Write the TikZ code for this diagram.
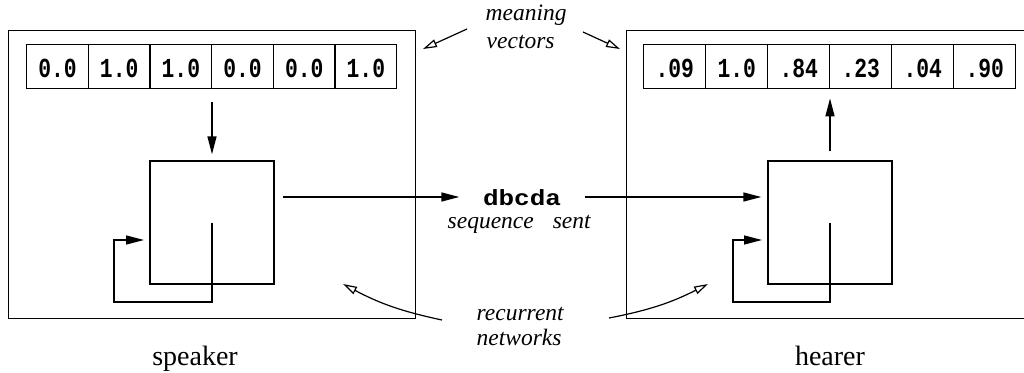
\documentclass[tikz,border=0pt]{standalone}
\usepackage{fontspec}
\setmainfont{Liberation Serif}
\setmonofont{Liberation Mono}
\usetikzlibrary{arrows.meta}
\newcommand{\vecval}[1]{\scalebox{0.97}[1.25]{#1}}
\begin{document}
\begin{tikzpicture}[x=1pt, y=-1pt, line width=1.4pt,
  frame/.style={draw, anchor=north west, inner sep=0pt, minimum width=407pt, minimum height=288pt},
  net/.style={draw, inner sep=0pt, minimum width=124pt, minimum height=123pt},
  cell/.style={draw, anchor=north west, inner sep=0pt, minimum width=#1, minimum height=44pt,
    text height=22pt, text depth=0pt, font=\fontsize{22}{22}\selectfont\ttfamily\bfseries},
  note/.style={anchor=base west, inner sep=0pt, font=\fontsize{23.5}{27}\selectfont\itshape},
  role/.style={anchor=base, inner sep=0pt, font=\fontsize{28}{30}\selectfont},
  arr/.style={-{Triangle[length=18pt, width=9pt]}},
  oarr/.style={-{Triangle[open, length=14pt, width=8pt, fill=white]}, line width=1.2pt}]
\useasboundingbox (0,0) rectangle (1024,372);
\clip (0,0) rectangle (1024,372);

% speaker and hearer frames
\node[frame] (spk) at (8,30) {};
\node[frame] (hrr) at (626,30) {};

% meaning vectors
\foreach \v [count=\i] in {0.0,1.0,1.0,0.0,0.0,1.0}
  \node[cell=61.67pt] (lc\i) at ({26+(\i-1)*61.67}, 44) {\vecval{\v}};
\foreach \v [count=\i] in {.09,1.0,.84,.23,.04,.90}
  \node[cell=62pt] (rc\i) at ({643+(\i-1)*62}, 44) {\vecval{\v}};

% recurrent networks
\node[net] (lnet) at (212,222.5) {};
\node[net] (rnet) at (830,222.5) {};

% vector to / from networks
\draw[arr, shorten <=13pt, shorten >=6pt] (lnet.north |- lc4.south) -- (lnet.north);
\draw[arr, shorten <=9pt, shorten >=9pt] (rnet.north) -- (rnet.north |- rc4.south);

% recurrent feedback loops
\coordinate (lfb) at (114,302);
\coordinate (lin) at (144,240);
\coordinate (rfb) at (733,302);
\coordinate (rin) at (762,240);
\draw[arr] (lnet.center) |- (lfb) |- (lin);
\draw[arr] (rnet.center) |- (rfb) |- (rin);

% transmitted sequence
\node[anchor=base, inner sep=0pt] (msg) at (522,205.5)
  {\scalebox{1.3}[1.1]{\fontsize{20}{20}\selectfont\ttfamily\bfseries dbcda}};
\node[note] (sent) at (447,228) {sequence\hspace{19pt}sent};
\coordinate (lout) at (283,197);
\draw[arr, shorten >=23pt] (lout) -- (lout -| msg.west);
\draw[arr, shorten <=23pt, shorten >=6pt] (lout -| msg.east) -- (lout -| rnet.west);

% labels with pointers
\node[note] (mean) at (485,20) {meaning};
\node[note] (vect) at (486,48) {vectors};
\coordinate (mtl) at (467,29);
\coordinate (mhl) at (423,49);
\coordinate (mtr) at (583,32);
\coordinate (mhr) at (620,49);
\draw[oarr] (mtl) -- (mhl);
\draw[oarr] (mtr) -- (mhr);

\node[note] (recu) at (476,320) {recurrent};
\node[note] (netw) at (476,345) {networks};
\coordinate (rtl) at (442,320);
\coordinate (rhl) at (343,284);
\coordinate (rtr) at (609,318);
\coordinate (rhr) at (708,284);
\draw[oarr] (rtl) to[bend left=8] (rhl);
\draw[oarr] (rtr) to[bend right=8] (rhr);

% roles
\node[role] (speaker) at (195,365) {speaker};
\node[role] (hearer) at (830,365) {hearer};
\end{tikzpicture}
\end{document}
